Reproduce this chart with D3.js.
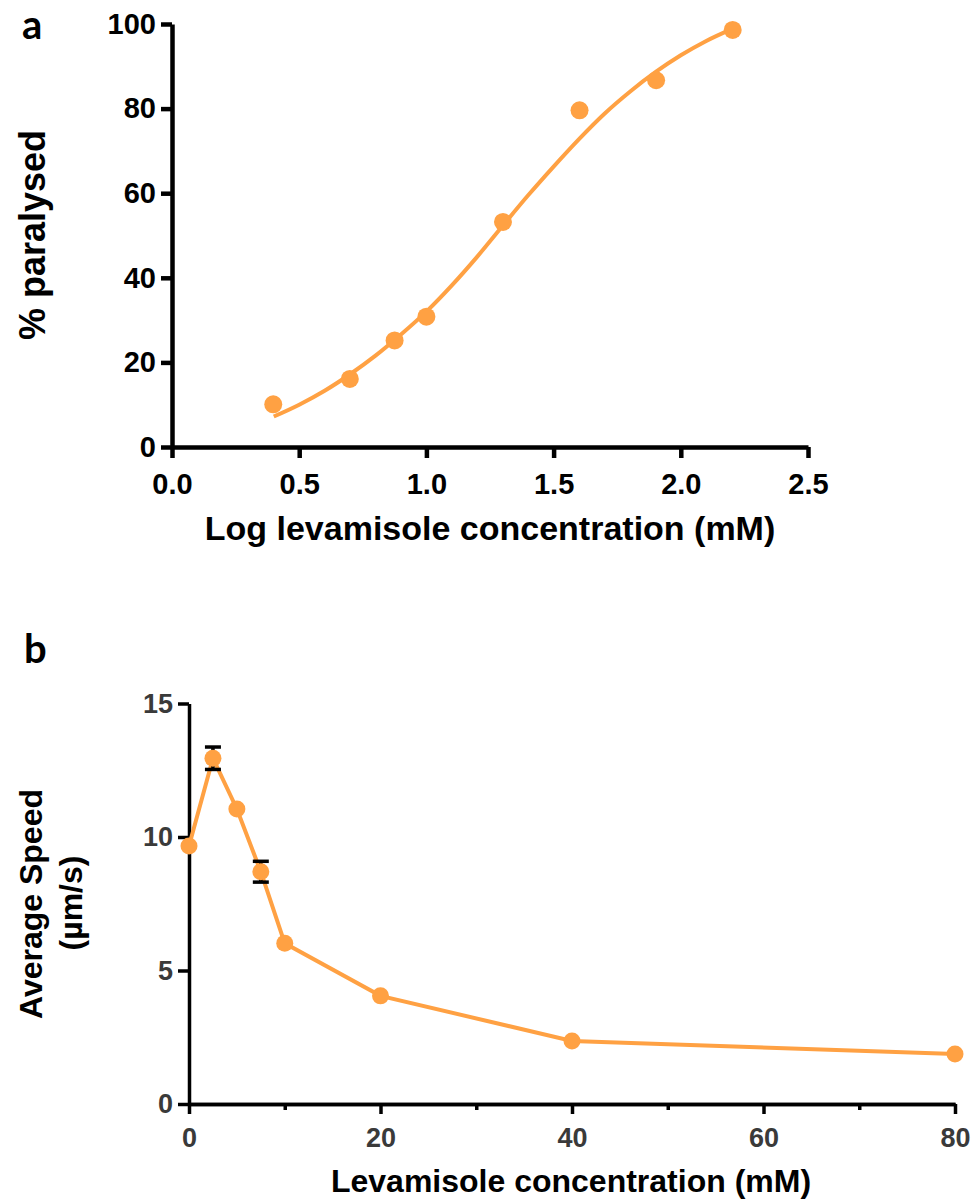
<!DOCTYPE html>
<html>
<head>
<meta charset="utf-8">
<script src="https://cdn.jsdelivr.net/npm/d3@7"></script>
<style>
  html, body { margin: 0; padding: 0; background: #fff; }
  svg { display: block; font-family: "Liberation Sans", Arial, sans-serif; }
</style>
</head>
<body>
<svg id="fig" width="976" height="1201"></svg>
<script>
// Panel a: paralysis dose-response
const logConc = [0.398, 0.699, 0.875, 1.0, 1.301, 1.602, 1.903, 2.204];
const paralysed = [10.1, 16.1, 25.2, 30.8, 53.2, 79.6, 86.7, 98.6];
// sigmoidal fit curve, sampled
const fitX = [0.4, 0.5, 0.6, 0.7, 0.8, 0.9, 1.0, 1.1, 1.2, 1.3, 1.4, 1.5, 1.6, 1.7, 1.8, 1.9, 2.0, 2.1, 2.2];
const fitY = [7.2, 10.0, 13.3, 17.2, 21.6, 26.6, 32.0, 38.2, 45.0, 52.3, 59.5, 66.3, 72.8, 78.8, 84.0, 88.6, 92.6, 96.0, 98.8];
const aXTicks = [0, 0.5, 1.0, 1.5, 2.0, 2.5];
const aYTicks = [0, 20, 40, 60, 80, 100];

// Panel b: average speed vs concentration
const conc = [0, 2.5, 5, 7.5, 10, 20, 40, 80];
const speed = [9.66, 12.95, 11.05, 8.70, 6.02, 4.05, 2.36, 1.87];
const speedErr = [0, 0.42, 0, 0.39, 0, 0, 0, 0];
const bXTicks = [0, 20, 40, 60, 80];
const bXMinor = [10, 30, 50, 70];
const bYTicks = [0, 5, 10, 15];

const orange = "#FFA143";
const font = "Liberation Sans, Arial, sans-serif";
const svg = d3.select("#fig");

function styleAxis(g, width, color, size) {
  g.attr("font-family", font);
  g.select(".domain").style("stroke", "#000").style("stroke-width", width + "px");
  g.selectAll(".tick line").style("stroke", "#000").style("stroke-width", width + "px");
  g.selectAll(".tick text").style("fill", color).style("font-size", size + "px")
    .style("font-weight", "bold").style("font-family", font);
}

// ---------- panel a ----------
const xa = d3.scaleLinear().domain([0, 2.5]).range([172, 808]);
const ya = d3.scaleLinear().domain([0, 100]).range([447, 24]);

const gaY = svg.append("g").attr("transform", `translate(${xa(0)},0)`)
  .call(d3.axisLeft(ya).tickValues(aYTicks).tickSize(11).tickSizeOuter(0).tickPadding(5).tickFormat(d3.format("d")));
const gaX = svg.append("g").attr("transform", `translate(0,${ya(0)})`)
  .call(d3.axisBottom(xa).tickValues(aXTicks).tickSize(11).tickSizeOuter(0).tickPadding(15).tickFormat(d3.format(".1f")));
styleAxis(gaY, 4.5, "#000", 29);
styleAxis(gaX, 4.5, "#000", 29);

const fitLine = d3.line().x((d, i) => xa(fitX[i])).y((d, i) => ya(fitY[i])).curve(d3.curveMonotoneX);
svg.append("path").attr("d", fitLine(fitX)).attr("fill", "none").attr("stroke", orange).attr("stroke-width", 4);

svg.append("g").selectAll("circle").data(logConc).join("circle")
  .attr("cx", d => xa(d)).attr("cy", (d, i) => ya(paralysed[i])).attr("r", 9).attr("fill", orange);

svg.append("text").attr("x", 490).attr("y", 540).attr("text-anchor", "middle")
  .attr("font-size", 34).attr("font-weight", "bold").text("Log levamisole concentration (mM)");
svg.append("text").attr("transform", "translate(45,235) rotate(-90)").attr("text-anchor", "middle")
  .attr("font-size", 36).attr("font-weight", "bold").text("% paralysed");
svg.append("text").attr("x", 22).attr("y", 39).attr("font-family", "Lato, sans-serif")
  .attr("font-size", 40).attr("font-weight", "bold").text("a");

// ---------- panel b ----------
const xb = d3.scaleLinear().domain([0, 80]).range([189, 955]);
const yb = d3.scaleLinear().domain([0, 15]).range([1104, 703.5]);

const gbY = svg.append("g").attr("transform", `translate(${xb(0)},0)`)
  .call(d3.axisLeft(yb).tickValues(bYTicks).tickSize(11).tickSizeOuter(0).tickPadding(5).tickFormat(d3.format("d")));
const gbXm = svg.append("g").attr("transform", `translate(0,${yb(0)})`)
  .call(d3.axisBottom(xb).tickValues(bXMinor).tickSize(6).tickSizeOuter(0).tickFormat(""));
const gbX = svg.append("g").attr("transform", `translate(0,${yb(0)})`)
  .call(d3.axisBottom(xb).tickValues(bXTicks).tickSize(10).tickSizeOuter(0).tickPadding(14).tickFormat(d3.format("d")));
[gbY, gbXm, gbX].forEach(g => styleAxis(g, 3.5, "#3a3a3a", 27));

const speedLine = d3.line().x((d, i) => xb(conc[i])).y((d, i) => yb(speed[i]));
svg.append("path").attr("d", speedLine(conc)).attr("fill", "none").attr("stroke", orange).attr("stroke-width", 4);

// error bars (SEM)
const errG = svg.append("g").attr("stroke", "#000").attr("stroke-width", 3.5);
conc.forEach((c, i) => {
  const e = speedErr[i];
  if (!e) return;
  const x = xb(c), y1 = yb(speed[i] + e), y0 = yb(speed[i] - e);
  errG.append("line").attr("x1", x).attr("x2", x).attr("y1", y1).attr("y2", y0);
  errG.append("line").attr("x1", x - 8).attr("x2", x + 8).attr("y1", y1).attr("y2", y1);
  errG.append("line").attr("x1", x - 8).attr("x2", x + 8).attr("y1", y0).attr("y2", y0);
});

svg.append("g").selectAll("circle").data(conc).join("circle")
  .attr("cx", d => xb(d)).attr("cy", (d, i) => yb(speed[i])).attr("r", 8.5).attr("fill", orange);

svg.append("text").attr("x", 571).attr("y", 1192).attr("text-anchor", "middle")
  .attr("font-size", 32).attr("font-weight", "bold").text("Levamisole concentration (mM)");
svg.append("text").attr("transform", "translate(42,904) rotate(-90)").attr("text-anchor", "middle")
  .attr("font-size", 32).attr("font-weight", "bold").text("Average Speed");
svg.append("text").attr("transform", "translate(82,903) rotate(-90)").attr("text-anchor", "middle")
  .attr("font-size", 32).attr("font-weight", "bold").text("(µm/s)");
svg.append("text").attr("x", 24).attr("y", 663).attr("font-family", "Lato, sans-serif")
  .attr("font-size", 40).attr("font-weight", "bold").text("b");
</script>
</body>
</html>
